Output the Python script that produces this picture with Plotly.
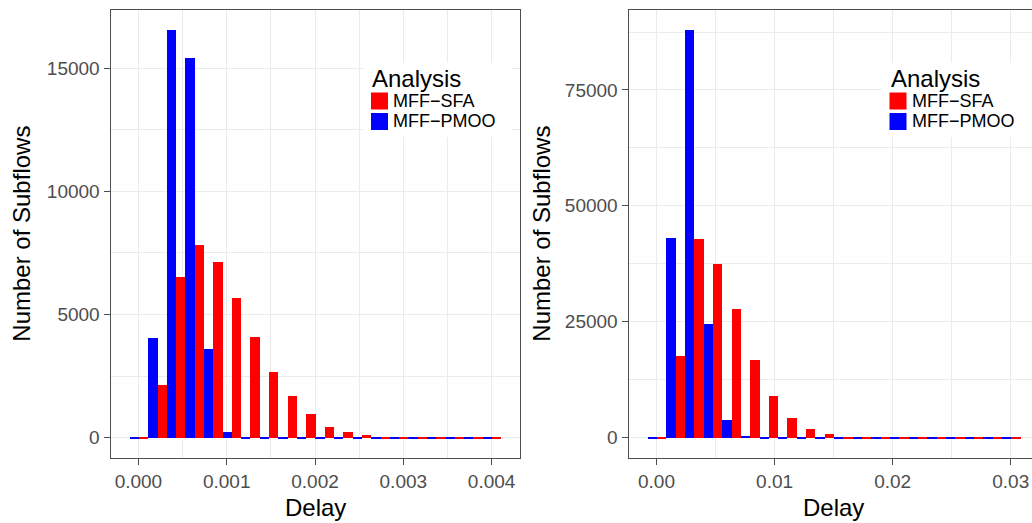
import plotly.graph_objects as go

# Histogram bin centres (20 bins each) for the two scenarios
delay_bins_a = [0.0, 0.000211, 0.000421, 0.000632, 0.000842, 0.001053, 0.001263,
                0.001474, 0.001684, 0.001895, 0.002105, 0.002316, 0.002526,
                0.002737, 0.002947, 0.003158, 0.003368, 0.003579, 0.003789, 0.004]
delay_bins_b = [0.0, 0.001579, 0.003158, 0.004737, 0.006316, 0.007895, 0.009474,
                0.011053, 0.012632, 0.014211, 0.015789, 0.017368, 0.018947,
                0.020526, 0.022105, 0.023684, 0.025263, 0.026842, 0.028421, 0.03]

# Subflow counts per bin
sfa_a = [55, 2160, 6540, 7840, 7160, 5690, 4110, 2690, 1720, 990,
         460, 260, 135, 55, 20, 20, 20, 20, 20, 20]
pmoo_a = [55, 4070, 16550, 15420, 3620, 260, 20, 20, 20, 20,
          20, 20, 20, 20, 20, 20, 20, 20, 20, 20]
sfa_b = [150, 17740, 42940, 37550, 27930, 16870, 9130, 4390, 2020, 940,
         290, 90, 80, 80, 80, 80, 80, 80, 80, 80]
pmoo_b = [150, 43150, 87950, 24630, 3810, 500, 80, 80, 80, 80,
          80, 80, 80, 80, 80, 80, 80, 80, 80, 80]

series_names = ["MFF\u2212SFA", "MFF\u2212PMOO"]
series_colors = ["#FF0000", "#0000FF"]

ticks_a = [0.0, 0.001, 0.002, 0.003, 0.004]
ticklabels_a = ["0.000", "0.001", "0.002", "0.003", "0.004"]
ticks_b = [0.0, 0.01, 0.02, 0.03]
ticklabels_b = ["0.00", "0.01", "0.02", "0.03"]
yticks_a = [0, 5000, 10000, 15000]
yticklabels_a = ["0", "5000", "10000", "15000"]
yticks_b = [0, 25000, 50000, 75000]
yticklabels_b = ["0", "25000", "50000", "75000"]

W, H = 1032, 523
FONT = "Liberation Sans, Arial, Helvetica, sans-serif"


def px(x):
    return x / W


def py(y):
    return 1 - y / H


fig = go.Figure()

panels = [
    (delay_bins_a, sfa_a, pmoo_a, "x", "y"),
    (delay_bins_b, sfa_b, pmoo_b, "x2", "y2"),
]
for bins, sfa, pmoo, xa, ya in panels:
    bw = bins[1] - bins[0]
    # dodged bars: PMOO on the left half of the bin, SFA on the right half
    fig.add_trace(go.Bar(x=bins, y=pmoo, width=bw / 2, offset=-bw / 2,
                         marker=dict(color=series_colors[1], line=dict(width=0)),
                         name=series_names[1], xaxis=xa, yaxis=ya, showlegend=False))
    fig.add_trace(go.Bar(x=bins, y=sfa, width=bw / 2, offset=0,
                         marker=dict(color=series_colors[0], line=dict(width=0)),
                         name=series_names[0], xaxis=xa, yaxis=ya, showlegend=False))

grid = "#EBEBEB"
border = "#4D4D4D"
tickfont = dict(family=FONT, size=19, color="#4D4D4D")

common_x = dict(showline=True, linecolor=border, linewidth=1, ticks="outside",
                ticklen=6, tickcolor=border, tickfont=tickfont, showgrid=True,
                gridcolor=grid, gridwidth=1, zeroline=False)
common_y = dict(showline=True, linecolor=border, linewidth=1, ticks="outside",
                ticklen=6, tickcolor=border, tickfont=tickfont, showgrid=True,
                gridcolor=grid, gridwidth=1, zeroline=False)

y_bottom, y_top = py(458), py(9.5)

fig.update_layout(
    width=W, height=H,
    margin=dict(l=0, r=0, t=0, b=0),
    paper_bgcolor="white", plot_bgcolor="white",
    barmode="overlay", bargap=0,
    showlegend=False,
    xaxis=dict(common_x, domain=[px(110.5), px(519.5)], range=[-0.000316, 0.004316],
               tickvals=ticks_a, ticktext=ticklabels_a, mirror=True, anchor="y",
               minor=dict(dtick=0.0005, tick0=0, showgrid=True, gridcolor=grid,
                          gridwidth=1, ticks="")),
    yaxis=dict(common_y, domain=[y_bottom, y_top], range=[-827.5, 17377.5],
               tickvals=yticks_a, ticktext=yticklabels_a, mirror=True, anchor="x",
               minor=dict(dtick=2500, tick0=0, showgrid=True, gridcolor=grid,
                          gridwidth=1, ticks="")),
    xaxis2=dict(common_x, domain=[px(628.5), 1.0], range=[-0.002368, 0.0318],
                tickvals=ticks_b, ticktext=ticklabels_b, mirror=True, anchor="y2",
                minor=dict(dtick=0.005, tick0=0, showgrid=True, gridcolor=grid,
                           gridwidth=1, ticks="")),
    yaxis2=dict(common_y, domain=[y_bottom, y_top], range=[-4398, 92353],
                tickvals=yticks_b, ticktext=yticklabels_b, mirror=False, anchor="x2",
                minor=dict(dtick=12500, tick0=0, showgrid=True, gridcolor=grid,
                           gridwidth=1, ticks="")),
)

annotations = []
shapes = []

# axis titles
for cx in (315, 833):
    annotations.append(dict(text="Delay", x=px(cx), y=py(507), xref="paper", yref="paper",
                            xanchor="center", yanchor="middle", showarrow=False,
                            font=dict(family=FONT, size=24, color="black")))
for cx in (22, 542):
    annotations.append(dict(text="Number of Subflows", x=px(cx), y=py(233.7),
                            xref="paper", yref="paper", textangle=-90,
                            xanchor="center", yanchor="middle", showarrow=False,
                            font=dict(family=FONT, size=24, color="black")))

# legends (one inside each panel)
KEY = 17.0
PITCH = 20.5
for box_l, box_r, key_l in ((363, 512, 371), (882, 1032, 889.5)):
    shapes.append(dict(type="rect", xref="paper", yref="paper",
                       x0=px(box_l), x1=px(box_r), y0=py(137), y1=py(62.7),
                       fillcolor="white", line=dict(width=0), layer="above"))
    annotations.append(dict(text="Analysis", x=px(key_l - 1), y=py(78),
                            xref="paper", yref="paper", xanchor="left",
                            yanchor="middle", showarrow=False,
                            font=dict(family=FONT, size=24, color="black")))
    for i, (name, col) in enumerate(zip(series_names, series_colors)):
        top = 92.5 + i * PITCH
        shapes.append(dict(type="rect", xref="paper", yref="paper",
                           x0=px(key_l), x1=px(key_l + KEY),
                           y0=py(top + KEY), y1=py(top),
                           fillcolor=col, line=dict(width=0), layer="above"))
        annotations.append(dict(text=name, x=px(key_l + KEY + 3), y=py(top + KEY / 2),
                                xref="paper", yref="paper", xanchor="left",
                                yanchor="middle", showarrow=False,
                                font=dict(family=FONT, size=18, color="black")))

fig.update_layout(annotations=annotations, shapes=shapes)

fig.write_html("out.html")
